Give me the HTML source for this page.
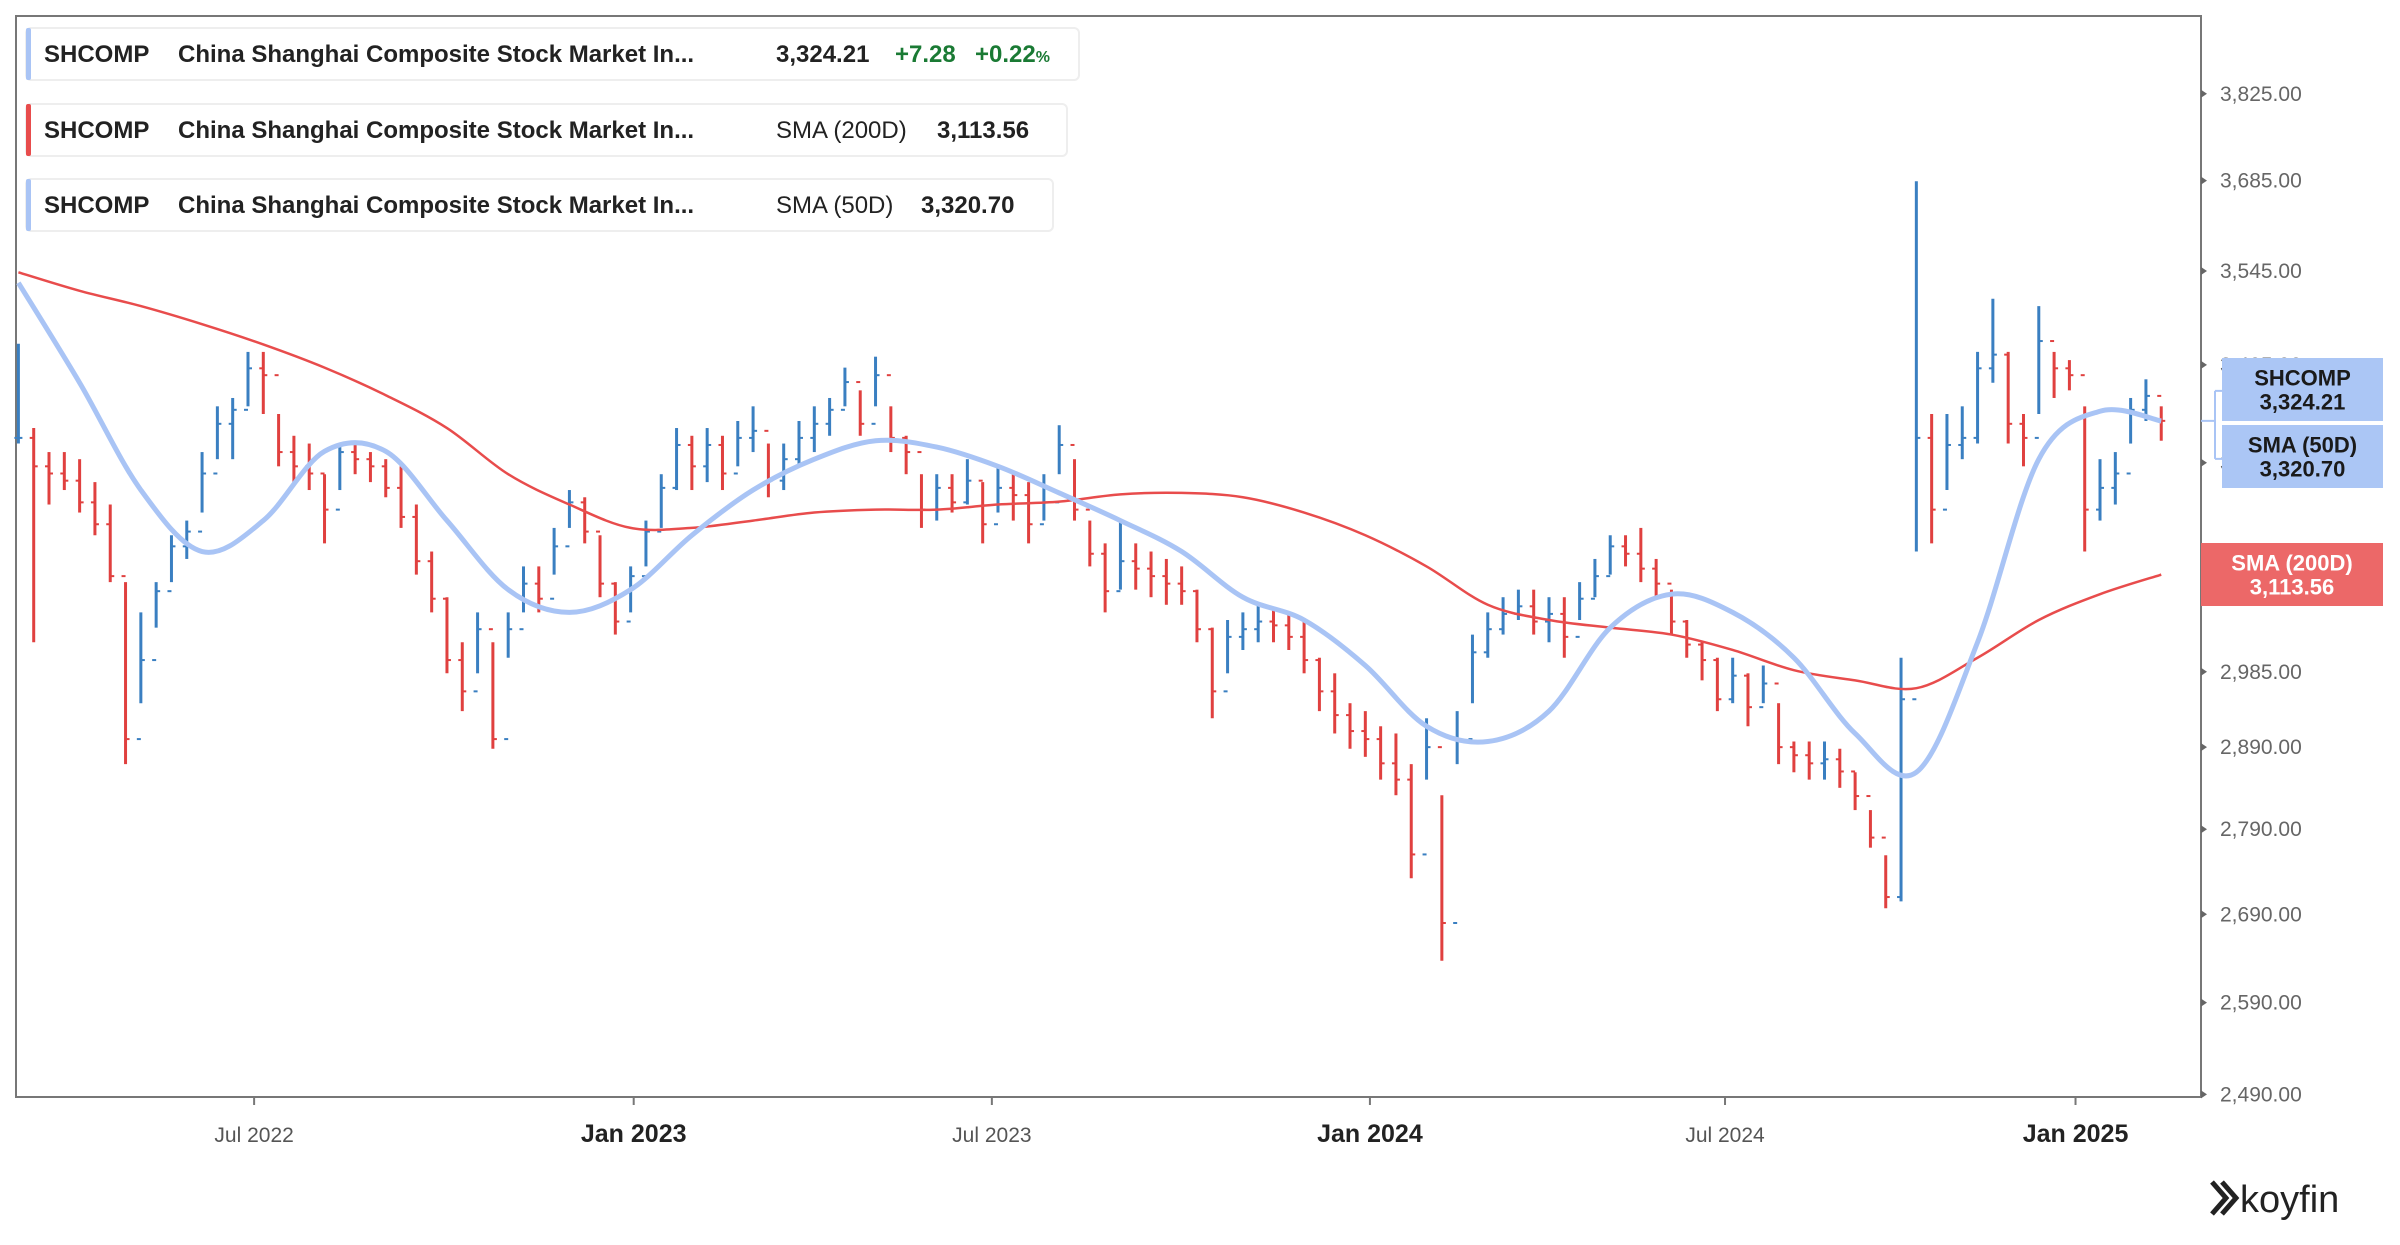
<!DOCTYPE html>
<html><head><meta charset="utf-8">
<style>
html,body{margin:0;padding:0;background:#fff;}
body{width:2400px;height:1240px;overflow:hidden;font-family:"Liberation Sans",sans-serif;}
svg text{font-family:"Liberation Sans",sans-serif;}
</style></head>
<body>
<svg id="chart" width="2400" height="1240" viewBox="0 0 2400 1240" xmlns="http://www.w3.org/2000/svg">
  <rect x="16" y="16" width="2185" height="1081" fill="none" stroke="#777" stroke-width="2"/>
  <g id="bars"></g>
  <g id="lines"></g>
  <g id="yaxis"></g>
  <g id="xaxis"></g>

  <g>
    <rect x="26" y="28" width="1053" height="52" rx="5" fill="#fff" stroke="#eee" stroke-width="2"/>
    <rect x="26" y="28" width="5" height="52" rx="2" fill="#a9c4f5"/>
    <text x="44" y="62" font-size="24" font-weight="bold" fill="#222">SHCOMP</text>
    <text x="178" y="62" font-size="24" font-weight="bold" fill="#222">China Shanghai Composite Stock Market In...</text>
    <text x="776" y="62" font-size="24" font-weight="bold" fill="#222">3,324.21</text>
    <text x="895" y="62" font-size="24" font-weight="bold" fill="#1a7a34">+7.28</text>
    <text x="975" y="62" font-size="24" font-weight="bold" fill="#1a7a34">+0.22<tspan font-size="16">%</tspan></text>
  </g>
  <g>
    <rect x="26" y="104" width="1041" height="52" rx="5" fill="#fff" stroke="#eee" stroke-width="2"/>
    <rect x="26" y="104" width="5" height="52" rx="2" fill="#e84c4c"/>
    <text x="44" y="138" font-size="24" font-weight="bold" fill="#222">SHCOMP</text>
    <text x="178" y="138" font-size="24" font-weight="bold" fill="#222">China Shanghai Composite Stock Market In...</text>
    <text x="776" y="138" font-size="24" fill="#222">SMA (200D)</text>
    <text x="937" y="138" font-size="24" font-weight="bold" fill="#222">3,113.56</text>
  </g>
  <g>
    <rect x="26" y="179" width="1027" height="52" rx="5" fill="#fff" stroke="#eee" stroke-width="2"/>
    <rect x="26" y="179" width="5" height="52" rx="2" fill="#a9c4f5"/>
    <text x="44" y="213" font-size="24" font-weight="bold" fill="#222">SHCOMP</text>
    <text x="178" y="213" font-size="24" font-weight="bold" fill="#222">China Shanghai Composite Stock Market In...</text>
    <text x="776" y="213" font-size="24" fill="#222">SMA (50D)</text>
    <text x="921" y="213" font-size="24" font-weight="bold" fill="#222">3,320.70</text>
  </g>

  <g>
    <path d="M2212 1182 L2226 1198 L2212 1214 M2222 1182 L2236 1198 L2222 1214" fill="none" stroke="#222" stroke-width="5"/>
    <text x="2240" y="1212" font-size="38" fill="#222">koyfin</text>
  </g>
</svg>
<script>
const highs=[3436,3314,3280,3280,3270,3238,3207,3102,3062,3102,3165,3185,3280,3345,3357,3424,3424,3334,3303,3292,3249,3292,3296,3280,3270,3260,3207,3143,3082,3023,3062,3023,3062,3123,3123,3175,3227,3217,3165,3102,3123,3185,3249,3314,3303,3314,3303,3324,3345,3292,3292,3324,3345,3357,3401,3368,3417,3345,3303,3249,3249,3249,3270,3238,3260,3249,3238,3249,3318,3270,3185,3154,3185,3154,3143,3133,3123,3092,3042,3052,3062,3072,3066,3062,3052,3003,2983,2945,2935,2916,2907,2869,2926,2831,2935,3033,3062,3082,3092,3092,3082,3082,3102,3133,3165,3165,3175,3133,3092,3052,3023,3003,3003,2983,2993,2945,2897,2897,2897,2888,2859,2813,2759,3003,3684,3334,3334,3345,3424,3503,3424,3334,3492,3424,3412,3345,3270,3280,3357,3384,3345];
const lows=[3292,3023,3207,3227,3196,3165,3102,2869,2945,3042,3102,3133,3196,3270,3270,3345,3334,3260,3238,3227,3154,3227,3249,3238,3217,3175,3112,3062,2983,2935,2983,2888,3003,3062,3062,3112,3175,3154,3082,3033,3062,3123,3175,3227,3227,3238,3227,3260,3280,3217,3227,3260,3280,3303,3345,3303,3345,3280,3249,3175,3185,3196,3207,3154,3196,3185,3154,3185,3249,3185,3123,3062,3092,3092,3082,3072,3072,3023,2926,2983,3013,3023,3023,3013,2983,2935,2907,2888,2878,2850,2831,2732,2850,2637,2869,2945,3003,3033,3052,3033,3023,3003,3052,3082,3112,3123,3102,3082,3033,3003,2974,2935,2945,2916,2945,2869,2859,2850,2850,2840,2813,2768,2697,2705,3143,3154,3227,3270,3292,3379,3292,3260,3334,3357,3368,3143,3185,3207,3292,3324,3296];
const closes=[3300,3260,3250,3240,3210,3180,3110,2900,3000,3090,3150,3170,3250,3320,3340,3400,3390,3280,3260,3250,3200,3280,3270,3260,3230,3190,3130,3080,3000,2960,3040,2900,3040,3100,3080,3150,3210,3170,3100,3050,3110,3170,3230,3290,3260,3290,3250,3300,3310,3240,3270,3300,3320,3340,3380,3320,3390,3300,3280,3200,3230,3210,3240,3180,3230,3220,3180,3210,3290,3200,3140,3090,3130,3120,3110,3100,3090,3040,2960,3030,3040,3050,3045,3030,3000,2960,2930,2910,2900,2870,2850,2760,2890,2680,2900,3010,3040,3060,3070,3050,3060,3030,3080,3110,3150,3140,3120,3100,3050,3020,3000,2950,2980,2940,2970,2890,2880,2870,2875,2860,2830,2780,2710,2950,3300,3200,3290,3300,3400,3420,3320,3300,3440,3400,3390,3200,3230,3250,3340,3360,3324.21];
const smaIdx=[0,4,8,12,16,20,24,28,32,36,40,44,48,52,56,60,64,68,72,76,80,84,88,92,96,100,104,108,112,116,120,124,128,132,136,140];
const sma50=[3527,3379,3227,3143,3185,3281,3281,3185,3092,3062,3092,3165,3227,3270,3296,3287,3260,3223,3185,3143,3082,3052,2993,2916,2897,2935,3042,3086,3062,3003,2907,2859,3023,3270,3338,3324];
const sma200=[3543,3515,3492,3465,3435,3401,3361,3314,3249,3207,3175,3175,3185,3196,3200,3200,3207,3211,3221,3223,3217,3196,3165,3123,3072,3052,3042,3033,3013,2987,2974,2964,3003,3052,3086,3112];
const yTicks=[3825,3685,3545,3405,3265,3125,2985,2890,2790,2690,2590,2490];
const xLabels=["Jul 2022","Jan 2023","Jul 2023","Jan 2024","Jul 2024","Jan 2025"];
const xLabelIdx=[15.4,40.2,63.6,88.3,111.5,134.4];
const xLabelBold=[false,true,false,true,false,true];

const NS="http://www.w3.org/2000/svg";
function xS(i){return 18.4+i*15.306;}
function yS(p){return 1094.4-2331*Math.log(p/2490);}
function mk(tag,attrs,parent){const e=document.createElementNS(NS,tag);for(const k in attrs)e.setAttribute(k,attrs[k]);parent.appendChild(e);return e;}

const bars=document.getElementById('bars');
for(let i=0;i<closes.length;i++){
  const o=i>0?closes[i-1]:closes[i];
  const up=closes[i]>=o;
  const col=up?"#3a7fc1":"#e0403f";
  const x=xS(i);
  const g=mk('g',{},bars);
  
  
  mk('line',{x1:x,x2:x,y1:yS(highs[i]),y2:yS(lows[i]),stroke:col,'stroke-width':3},g);
  mk('line',{x1:x-4,x2:x,y1:yS(o),y2:yS(o),stroke:col,'stroke-width':2},g);
  mk('line',{x1:x,x2:x+4,y1:yS(closes[i]),y2:yS(closes[i]),stroke:col,'stroke-width':2},g);
}
const lines=document.getElementById('lines');
function smooth(vals){
  const pts=smaIdx.map((ix,k)=>[xS(ix),yS(vals[k])]);
  let d="M"+pts[0][0]+" "+pts[0][1];
  for(let k=0;k<pts.length-1;k++){
    const p0=pts[k-1]||pts[k],p1=pts[k],p2=pts[k+1],p3=pts[k+2]||p2;
    const c1=[p1[0]+(p2[0]-p0[0])/6,p1[1]+(p2[1]-p0[1])/6];
    const c2=[p2[0]-(p3[0]-p1[0])/6,p2[1]-(p3[1]-p1[1])/6];
    d+=" C"+c1[0]+" "+c1[1]+" "+c2[0]+" "+c2[1]+" "+p2[0]+" "+p2[1];
  }
  return d;
}
const l200=mk('path',{d:smooth(sma200),fill:'none',stroke:'#e84c4c','stroke-width':2.5},lines);


const l50=mk('path',{d:smooth(sma50),fill:'none',stroke:'#a9c4f5','stroke-width':5},lines);



const ya=document.getElementById('yaxis');
yTicks.forEach(v=>{
  const y=yS(v);
  const t=mk('path',{d:`M2201 ${y-4} L2207 ${y} L2201 ${y+4} Z`,fill:'#666'},ya);
  
  
  const tx=mk('text',{x:2220,y:y+7,'font-size':21,fill:'#666'},ya);
  
  
  tx.textContent=v.toLocaleString('en-US',{minimumFractionDigits:2});
});
const xa=document.getElementById('xaxis');
xLabels.forEach((lab,k)=>{
  const x=xS(xLabelIdx[k]);
  const t=mk('line',{x1:x,x2:x,y1:1097,y2:1105,stroke:'#777','stroke-width':2},xa);
  
  
  const tx=mk('text',{x:x,y:1142,'font-size':xLabelBold[k]?25:21,'font-weight':xLabelBold[k]?'bold':'normal',fill:xLabelBold[k]?'#222':'#555','text-anchor':'middle'},xa);
  
  
  tx.textContent=lab;
});

// right-side value labels
const svg=document.getElementById('chart');
const lastY=yS(closes[closes.length-1]);
const br=mk('path',{d:`M2201 ${lastY} L2215 ${lastY} M2215 ${lastY-30} L2215 ${lastY+38} M2215 ${lastY-30} L2222 ${lastY-30} M2215 ${lastY+38} L2222 ${lastY+38}`,fill:'none',stroke:'#a9c4f5','stroke-width':2},svg);


function box(x,y,w,h,fill,col,l1,l2,name){
  const g=mk('g',{},svg);
  
  
  mk('rect',{x:x,y:y,width:w,height:h,fill:fill},g);
  const a=mk('text',{x:x+w/2,y:y+h/2-4,'font-size':22,'font-weight':'bold',fill:col,'text-anchor':'middle'},g);a.textContent=l1;
  const b=mk('text',{x:x+w/2,y:y+h/2+20,'font-size':22,'font-weight':'bold',fill:col,'text-anchor':'middle'},g);b.textContent=l2;
}
box(2222,358,161,63,'#abc6f5','#1a1a1a','SHCOMP','3,324.21','price-value-label');
box(2222,425,161,63,'#abc6f5','#1a1a1a','SMA (50D)','3,320.70','sma50-value-label');
box(2201,543,182,63,'#ec6868','#ffffff','SMA (200D)','3,113.56','sma200-value-label');
</script>
</body></html>
